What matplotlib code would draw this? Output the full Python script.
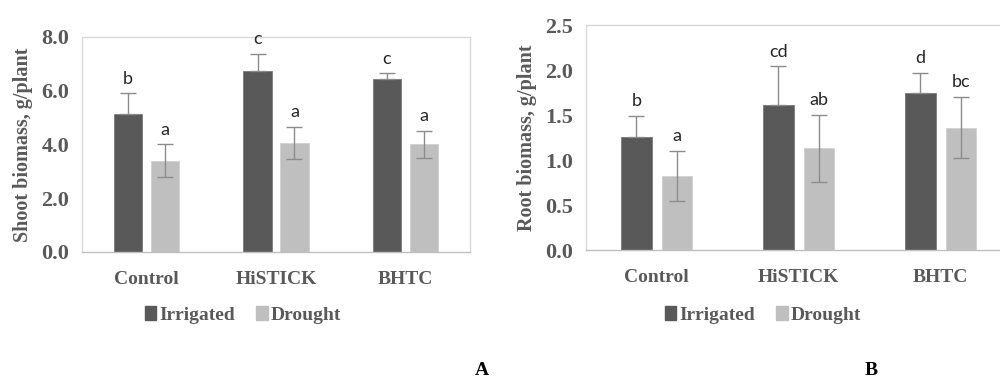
import matplotlib
matplotlib.use("Agg")
import matplotlib.pyplot as plt
import numpy as np
from matplotlib.patches import Patch

# data
groups = ["Control", "HiSTICK", "BHTC"]
series = ["Irrigated", "Drought"]

shoot_irr = [5.15, 6.75, 6.45]
shoot_irr_err = [0.75, 0.63, 0.2]
shoot_dro = [3.4, 4.05, 4.0]
shoot_dro_err = [0.6, 0.6, 0.5]
shoot_irr_lbl = ["b", "c", "c"]
shoot_dro_lbl = ["a", "a", "a"]

root_irr = [1.26, 1.61, 1.75]
root_irr_err = [0.23, 0.43, 0.22]
root_dro = [0.82, 1.13, 1.36]
root_dro_err = [0.28, 0.37, 0.34]
root_irr_lbl = ["b", "cd", "d"]
root_dro_lbl = ["a", "ab", "bc"]

DARK = "#595959"; LIGHT = "#bfbfbf"; TXT = "#595959"; ERR = "#8c8c8c"
SERIF = ["Liberation Serif", "DejaVu Serif"]
SANS = ["Lato", "DejaVu Sans"]

fig = plt.figure(figsize=(10, 3.85), dpi=100)


def panel(rect, irr, irr_e, dro, dro_e, l_irr, l_dro, ymax, step, ylabel, leg_x):
    ax = fig.add_axes(rect)
    x = np.arange(len(groups))
    off, w = 0.143, 0.217
    # lower whisker of the dark bars is hidden in the reference, so draw it upward only
    irr_yerr = [np.zeros(len(irr_e)), irr_e]
    for vals, errs, lbls, col, ec, dx in [(irr, irr_e, l_irr, DARK, "#7a7a7a", -off),
                                          (dro, dro_e, l_dro, LIGHT, "#d0d0d0", off)]:
        yerr = irr_yerr if col == DARK else errs
        ax.bar(x + dx, vals, w, color=col, edgecolor=ec, linewidth=0.6,
               yerr=yerr, error_kw=dict(ecolor=ERR, elinewidth=1.0, capsize=5.5, capthick=1.0))
        for xi, v, e, t in zip(x + dx, vals, errs, lbls):
            ax.annotate(t, (xi, v + e), xytext=(0, 7), textcoords="offset points",
                        ha="center", va="baseline", fontsize=13, color="#262626", family=SANS)
    ax.set_xlim(-0.5, 2.5)
    ax.set_ylim(0, ymax)
    ticks = np.arange(0, ymax + step / 2, step)
    ax.set_yticks(ticks)
    ax.set_yticklabels([f"{t:.1f}" for t in ticks], family=SERIF, fontweight="bold", fontsize=16, color=TXT)
    ax.set_xticks(x)
    ax.set_xticklabels(groups, family=SERIF, fontweight="bold", fontsize=14, color=TXT)
    ax.tick_params(length=0)
    ax.tick_params(axis="x", pad=14)
    ax.tick_params(axis="y", pad=9)
    for s in ax.spines.values():
        s.set_color("#d9d9d9"); s.set_linewidth(1.0)
    ax.spines["bottom"].set_color("#bfbfbf")
    ax.set_ylabel(ylabel, family=SERIF, fontweight="bold", fontsize=14.5, color=TXT, labelpad=6)
    handles = [Patch(color=DARK), Patch(color=LIGHT)]
    fig.legend(handles, series, loc="center", bbox_to_anchor=(leg_x, 0.182), ncol=2, frameon=False,
               handlelength=0.6, handleheight=0.7, handletextpad=0.15, columnspacing=1.1,
               prop=dict(family=SERIF, weight="bold", size=14), labelcolor=TXT)
    return ax


panel([0.082, 0.3455, 0.388, 0.5584], shoot_irr, shoot_irr_err, shoot_dro, shoot_dro_err,
      shoot_irr_lbl, shoot_dro_lbl, 8.0, 2.0, "Shoot biomass, g/plant", 0.243)
panel([0.5857, 0.3506, 0.426, 0.5844], root_irr, root_irr_err, root_dro, root_dro_err,
      root_irr_lbl, root_dro_lbl, 2.5, 0.5, "Root biomass, g/plant", 0.763)

fig.text(0.4815, 0.027, "A", family=SERIF, fontweight="bold", fontsize=14, ha="center", va="baseline")
fig.text(0.8715, 0.027, "B", family=SERIF, fontweight="bold", fontsize=14, ha="center", va="baseline")

fig.savefig("out.png", dpi=100)
